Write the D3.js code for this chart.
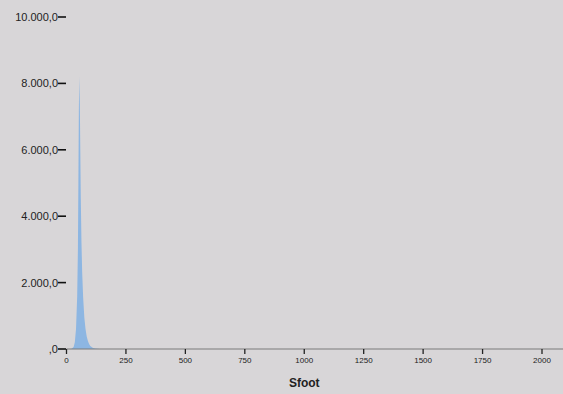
<!DOCTYPE html>
<html>
<head>
<meta charset="utf-8">
<script src="https://cdn.jsdelivr.net/npm/d3@7"></script>
<style>
  body { margin: 0; background: #d8d6d8; }
  svg { display: block; }
  text { font-family: "Liberation Sans", Arial, sans-serif; fill: #222; }
</style>
</head>
<body>
<svg id="chart" width="563" height="394"></svg>
<script>
// Sfoot values and frequencies
const sfoot = [0, 20, 30, 35, 40, 45, 48, 50, 52, 54, 56, 58, 60, 63, 66, 70, 75, 80, 85, 90, 95, 100, 110, 120, 130, 140, 2100];
const counts = [0, 0, 60, 200, 600, 1600, 3000, 5000, 7200, 8200, 7400, 6000, 4600, 3200, 2300, 1550, 950, 600, 380, 240, 150, 90, 40, 15, 5, 0, 0];
const xTicks = [0, 250, 500, 750, 1000, 1250, 1500, 1750, 2000];
const yTicks = [0, 2000, 4000, 6000, 8000, 10000];
const xTitle = "Sfoot";

const data = sfoot.map((d, i) => ({ x: d, y: counts[i] }));

const svg = d3.select("#chart");

const x = d3.scaleLinear().domain([0, 2000]).range([66.5, 542]);
const y = d3.scaleLinear().domain([0, 10000]).range([349, 17]);

const fmt = function (v) {
    if (v === 0) return ",0";
    return d3.format(",.1f")(v).replace(/,/g, "#").replace(".", ",").replace(/#/g, ".");
};

// distribution
const area = d3.area()
    .x(d => x(d.x))
    .y0(y(0))
    .y1(d => y(d.y))
    .curve(d3.curveLinear);

svg.append("path")
    .datum(data.filter(d => d.x <= 200))
    .attr("d", area)
    .attr("fill", "#8db6e2");

// x axis
svg.append("line")
    .attr("x1", x(0)).attr("x2", 563)
    .attr("y1", y(0)).attr("y2", y(0))
    .attr("stroke", "#7a7a7a")
    .attr("stroke-width", 1.2);

const xg = svg.append("g");
xg.selectAll("line.tick")
    .data(xTicks)
    .enter()
    .append("line")
    .attr("x1", d => x(d)).attr("x2", d => x(d))
    .attr("y1", y(0)).attr("y2", y(0) + 5)
    .attr("stroke", "#222")
    .attr("stroke-width", 1.3);
xg.selectAll("text")
    .data(xTicks)
    .enter()
    .append("text")
    .attr("x", d => x(d))
    .attr("y", 363)
    .attr("text-anchor", "middle")
    .attr("font-size", 8)
    .text(d => d);

// y axis ticks
const yg = svg.append("g");
yg.selectAll("line")
    .data(yTicks)
    .enter()
    .append("line")
    .attr("x1", 58).attr("x2", 66)
    .attr("y1", d => y(d)).attr("y2", d => y(d))
    .attr("stroke", "#111")
    .attr("stroke-width", 1.6);
yg.selectAll("text")
    .data(yTicks)
    .enter()
    .append("text")
    .attr("x", 58)
    .attr("y", d => y(d) + 4)
    .attr("text-anchor", "end")
    .attr("font-size", 11)
    .text(d => fmt(d));

// axis title
svg.append("text")
    .attr("x", x(1000))
    .attr("y", 387)
    .attr("text-anchor", "middle")
    .attr("font-size", 12)
    .attr("font-weight", "bold")
    .text(xTitle);
</script>
</body>
</html>
